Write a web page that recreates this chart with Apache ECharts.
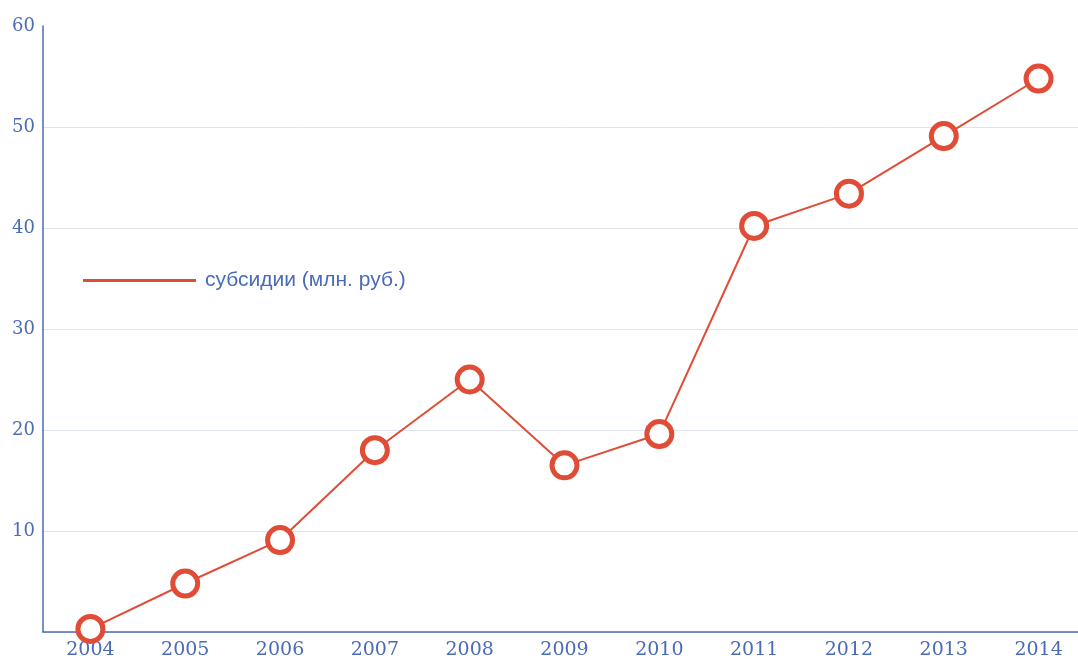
<!DOCTYPE html>
<html>
<head>
<meta charset="utf-8">
<script src="https://cdn.jsdelivr.net/npm/echarts@6/dist/echarts.min.js"></script>
<style>
html, body { margin: 0; padding: 0; background: #fff; overflow: hidden; }
#main { width: 1086px; height: 661px; }
</style>
</head>
<body>
<div id="main"></div>
<script>
var years = ['2004', '2005', '2006', '2007', '2008', '2009', '2010', '2011', '2012', '2013', '2014'];
var subsidies = [0.3, 4.8, 9.1, 18.0, 25.0, 16.5, 19.6, 40.2, 43.4, 49.1, 54.8];
var seriesName = 'субсидии (млн. руб.)';

// the plot runs a little past the right edge of the window, as in the original
var chart = echarts.init(document.getElementById('main'));
var blue = '#4a6bb8';
var red = '#e04c36';

var option = {
	animation : false,
	grid : {
		left : 43,
		top : 26,
		right : 0,
		bottom : 29
	},
	legend : {
		left : 83,
		top : 270,
		padding : 0,
		icon : 'rect',
		itemWidth : 113,
		itemHeight : 3,
		itemStyle : { color : red, borderWidth : 0 },
		textStyle : {
			color : blue,
			fontFamily : 'Liberation Sans',
			fontSize : 21,
			padding : [ 0, 0, 0, 4 ]
		},
		data : [ seriesName ]
	},
	xAxis : {
		type : 'category',
		data : years,
		axisLine : { lineStyle : { color : blue, width : 1.5 } },
		axisTick : { show : false },
		axisLabel : {
			color : blue,
			fontFamily : 'DejaVu Serif',
			fontSize : 19,
			margin : 9
		}
	},
	yAxis : {
		type : 'value',
		min : 0,
		max : 60,
		interval : 10,
		axisLine : { show : true, lineStyle : { color : blue, width : 1.5 } },
		axisTick : { show : false },
		axisLabel : {
			color : blue,
			fontFamily : 'DejaVu Serif',
			fontSize : 18,
			margin : 8,
			formatter : function(v) { return v === 0 ? '' : v; }
		},
		splitLine : {
			showMaxLine : false,
			lineStyle : { color : '#dfe4f3', width : 1 }
		}
	},
	series : [ {
		name : seriesName,
		type : 'line',
		data : subsidies,
		symbol : 'circle',
		symbolSize : 25,
		lineStyle : { color : red, width : 2 },
		itemStyle : { color : '#fff', borderColor : red, borderWidth : 5 },
		color : red
	} ]
};
chart.setOption(option, true);
</script>
</body>
</html>
